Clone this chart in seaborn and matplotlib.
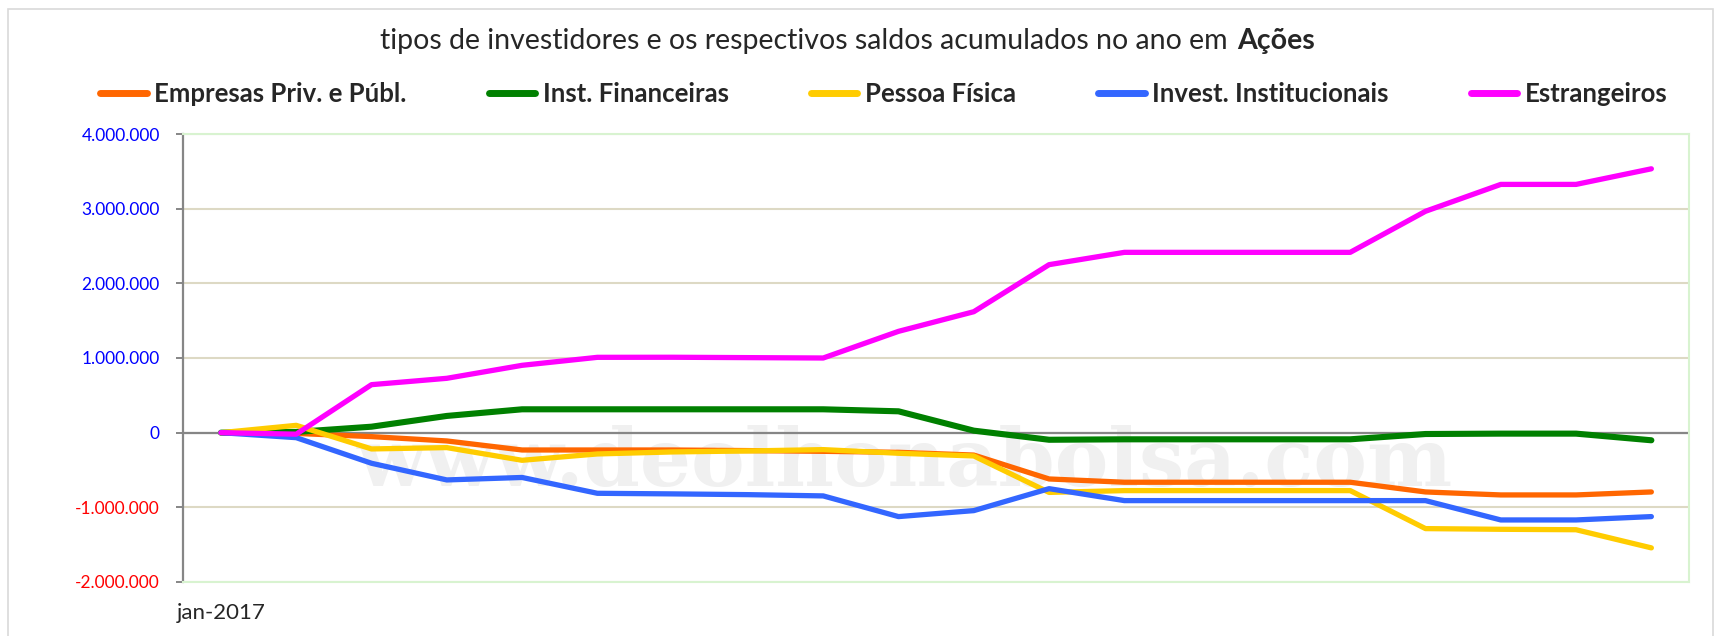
import pandas as pd
import seaborn as sns
import matplotlib.pyplot as plt
from matplotlib.ticker import FuncFormatter

# saldos acumulados (R$ mil) por tipo de investidor
periods = list(range(20))
tick_labels = ["jan-2017"]

empresas = [0, -10000, -53000, -111000, -232000, -232000, -232000, -240000, -250000, -263000,
            -300000, -620000, -664000, -664000, -664000, -664000, -794000, -834000, -834000, -794000]
inst_fin = [0, 10000, 80000, 224000, 313000, 313000, 313000, 313000, 313000, 286000,
            27000, -95000, -89000, -89000, -89000, -89000, -18000, -13000, -13000, -102000]
pessoa_fisica = [0, 98000, -218000, -200000, -370000, -285000, -258000, -245000, -227000, -276000,
                 -312000, -800000, -776000, -776000, -776000, -776000, -1285000, -1294000, -1300000, -1543000]
invest_inst = [0, -67000, -410000, -633000, -600000, -812000, -820000, -830000, -847000, -1124000,
               -1044000, -750000, -910000, -910000, -910000, -910000, -910000, -1169000, -1169000, -1124000]
estrangeiros = [0, -20000, 643000, 728000, 902000, 1009000, 1010000, 1005000, 1000000, 1357000,
                1620000, 2250000, 2415000, 2415000, 2415000, 2415000, 2965000, 3325000, 3325000, 3534000]

series = ["Empresas Priv. e Públ.", "Inst. Financeiras", "Pessoa Física",
          "Invest. Institucionais", "Estrangeiros"]
colors = ["#FF6600", "#008000", "#FFCC00", "#3366FF", "#FF00FF"]

frames = []
for name, vals in zip(series, [empresas, inst_fin, pessoa_fisica, invest_inst, estrangeiros]):
    frames.append(pd.DataFrame({"periodo": periods, "saldo": vals, "tipo": name}))
df = pd.concat(frames, ignore_index=True)

sns.set_theme(style="white")
plt.rcParams["font.family"] = ["Lato", "DejaVu Sans"]

W, H = 1721, 636
fig = plt.figure(figsize=(W / 100, H / 100), dpi=100)
ax = fig.add_axes([183.3 / W, 1 - 582 / H, (1689 - 183.3) / W, (582 - 134) / H])

# moldura externa do grafico
fig.patches.append(plt.Rectangle((8 / W, -0.1), (1713 - 8) / W, 1 - 9 / H + 0.1,
                                 transform=fig.transFigure, fill=False,
                                 edgecolor="#D9D9D9", linewidth=1.2))

# marca d'agua (atras das linhas)
ax.text(905 / W, 1 - 486 / H, "www.deolhonabolsa.com", transform=fig.transFigure,
        ha="center", va="baseline", fontsize=58, fontweight="bold", family="DejaVu Serif",
        color="#F0F0F0", zorder=0.5, clip_on=False)

sns.lineplot(data=df, x="periodo", y="saldo", hue="tipo", hue_order=series,
             palette=colors, linewidth=3.8, ax=ax, legend=False, zorder=3)
for ln in ax.lines:
    ln.set_solid_capstyle("round")
    ln.set_solid_joinstyle("round")
ax.lines[1].set_linewidth(4.4)

ax.set_xlim(-0.5, len(periods) - 0.5)
ax.set_ylim(-2_000_000, 4_000_000)
ax.set_yticks(range(-2_000_000, 4_000_001, 1_000_000))
ax.yaxis.set_major_formatter(FuncFormatter(lambda v, p: f"{int(v):,}".replace(",", ".")))
ax.set_xticks([0])
ax.set_xticklabels(tick_labels)
ax.set_xlabel("")
ax.set_ylabel("")
ax.patch.set_alpha(0)

ax.grid(axis="y", color="#DDD9C4", linewidth=1.5, zorder=1)
ax.grid(axis="x", visible=False)
ax.axhline(0, color="#868686", linewidth=1.6, zorder=2)
for side in ["top", "right", "bottom"]:
    ax.spines[side].set_color("#D8F3D0")
    ax.spines[side].set_linewidth(1.5)
ax.spines["left"].set_color("#868686")
ax.spines["left"].set_linewidth(1.6)

ax.tick_params(axis="y", left=True, length=5, width=1.4, color="#868686", pad=12, labelsize=12.5)
ax.tick_params(axis="x", bottom=False, pad=9, labelsize=16)
for lab, v in zip(ax.get_yticklabels(), ax.get_yticks()):
    lab.set_color("#FF0000" if v < 0 else "#0000FF")

# titulo com parte em negrito
fig.text(1228 / W, 1 - 41 / H, "tipos de investidores e os respectivos saldos acumulados no ano em",
         ha="right", va="center", fontsize=20.5)
fig.text(1237 / W, 1 - 41 / H, "Ações", ha="left", va="center", fontsize=20.5, fontweight="bold")

leg = fig.legend(ax.lines[:5], series, loc="center", bbox_to_anchor=(0.5137, 1 - 94 / H), ncol=5,
                 frameon=False, handlelength=1.8, handletextpad=0.3, columnspacing=3.2,
                 prop={"weight": "bold", "size": 18.5})
for h in leg.legend_handles:
    h.set_linewidth(5)

fig.savefig("out.png", dpi=100)
